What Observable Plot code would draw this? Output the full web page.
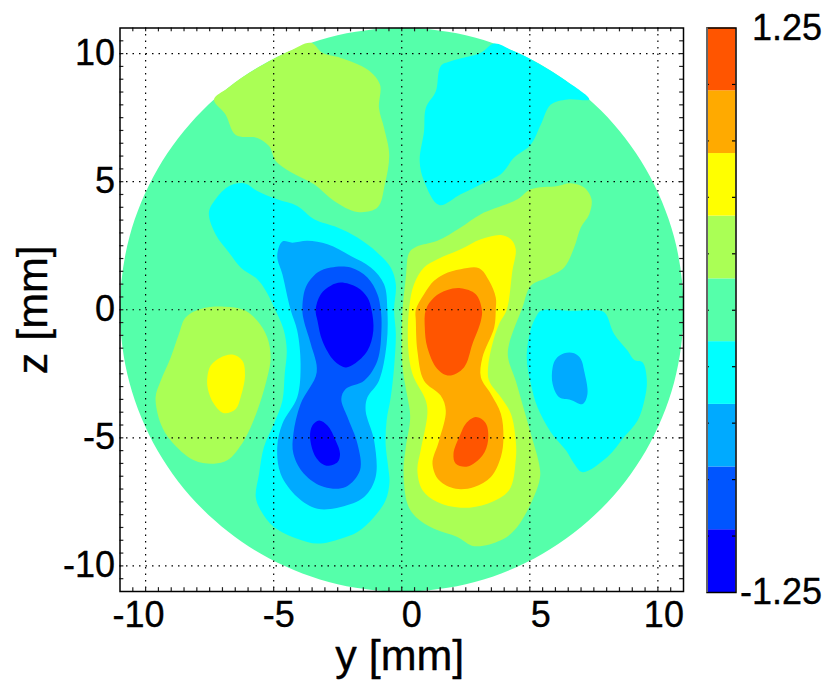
<!DOCTYPE html>
<html>
<head>
<meta charset="utf-8">
<script src="https://cdn.jsdelivr.net/npm/d3@7"></script>
<script src="https://cdn.jsdelivr.net/npm/@observablehq/plot@0.6"></script>
<style>
  html, body { margin: 0; background: white; }
  #chart { position: relative; width: 830px; height: 683px; overflow: hidden; }
  #chart svg { position: absolute; top: 0; background: transparent; }
  #bar { left: 706px; }
</style>
</head>
<body>
<div id="chart"></div>
<script>
// colours of the nine contour bands, lowest first
const bandColors = ["#0000ff", "#0055ff", "#00aaff", "#00ffff", "#55ffaa", "#aaff55", "#ffff00", "#ffaa00", "#ff5500"];
const bandEdges = [-1.25, -0.972, -0.694, -0.417, -0.139, 0.139, 0.417, 0.694, 0.972, 1.25];

const majorTicks = [-10, -5, 0, 5, 10];
// the x labels do not sit centred on their ticks in the original
const xLabelShift = [-7, 5, 10, 11, 6];
const minorTicks = [-10.5, -10, -9.5, -9, -8.5, -8, -7.5, -7, -6.5, -6, -5.5, -5, -4.5, -4, -3.5, -3, -2.5, -2, -1.5, -1, -0.5, 0,
  0.5, 1, 1.5, 2, 2.5, 3, 3.5, 4, 4.5, 5, 5.5, 6, 6.5, 7, 7.5, 8, 8.5, 9, 9.5, 10, 10.5];
const barLabels = [-1.25, 1.25];
const barTicks = [-1, -0.75, -0.5, -0.25, 0, 0.25, 0.5, 0.75, 1];

// contours, [y, z] in mm
const disc = [[11, 0], [10.63, 2.85], [9.53, 5.5], [7.78, 7.78], [5.5, 9.53], [2.85, 10.63], [0, 11], [-2.85, 10.63], [-5.5, 9.53], [-7.78, 7.78], [-9.53, 5.5], [-10.63, 2.85],
  [-11, 0], [-10.63, -2.85], [-9.53, -5.5], [-7.78, -7.78], [-5.5, -9.53], [-2.85, -10.63], [0, -11], [2.85, -10.63], [5.5, -9.53], [7.78, -7.78], [9.53, -5.5], [10.63, -2.85]];

const greenTopLeft = [[-7.33, 8.21], [-6.88, 7.62], [-6.48, 6.82], [-5.64, 6.71], [-5.18, 6.39], [-4.92, 5.81], [-4.34, 5.38], [-3.42, 4.9], [-2.64, 4.25], [-1.73, 3.82], [-0.95, 3.99], [-0.66, 4.9],
  [-0.49, 6.06], [-0.69, 7.1], [-0.89, 7.88], [-0.85, 8.79], [-1.34, 9.38], [-2.38, 9.83], [-3.1, 10.03], [-3.55, 10.42], [-4.34, 10.12], [-5.05, 9.77], [-6.16, 9.12], [-6.8, 8.65]];
const cyanTopRight = [[3.61, 10.39], [3.09, 10.03], [1.91, 9.7], [1.52, 9.51], [1.33, 8.53], [0.94, 7.88], [0.87, 6.97], [0.7, 5.81], [0.87, 5.03], [1.46, 4.09], [2.3, 4.51], [3.22, 4.96], [3.87, 5.29], [4.39, 5.94],
  [5.04, 6.45], [5.43, 7.23], [5.82, 8.01], [6.47, 8.21], [7.32, 8.21], [6.4, 8.95], [5.04, 9.78], [4.3, 10.13]];
const cyanLeft = [[-7.53, 3.79], [-7.27, 4.31], [-6.74, 4.83], [-6.16, 4.94], [-5.64, 4.64], [-4.86, 4.31], [-4.08, 4.05], [-3.42, 3.53], [-2.51, 3.21], [-1.73, 2.82], [-0.95, 2.23], [-0.43, 1.65], [-0.23, 1], [-0.3, 0],
  [-0.23, -0.95], [-0.3, -2.25], [-0.43, -3.42], [-0.59, -4.32], [-0.63, -5.23], [-0.53, -6.14], [-0.48, -6.73], [-0.63, -7.44], [-1.08, -8.09], [-1.73, -8.68], [-2.38, -8.94], [-3.29, -9.13], [-4.08, -8.94], [-4.99, -8.48],
  [-5.51, -7.83], [-5.7, -7.31], [-5.57, -6.4], [-5.38, -5.36], [-4.99, -4.45], [-4.66, -3.55], [-4.57, -2.51], [-4.49, -1.6], [-4.6, -0.82], [-4.86, -0.17], [-5.31, 0.74], [-5.64, 1.19], [-6.29, 1.65], [-6.74, 2.23], [-7.27, 2.95]];
const skyLeft = [[-4.34, 0], [-4.08, -0.82], [-3.95, -2.12], [-4.08, -3.42], [-4.66, -4.45], [-4.86, -5.36], [-4.73, -6.4], [-4.08, -7.31], [-3.29, -7.77], [-2.38, -7.7], [-1.47, -7.31], [-1.02, -6.53], [-1.08, -5.1],
  [-1.41, -3.94], [-1.34, -3.42], [-0.89, -2.77], [-0.59, -1.34], [-0.56, -0.04], [-0.69, 1], [-1.21, 1.65], [-1.99, 2.1], [-2.9, 2.56], [-3.68, 2.69], [-4.27, 2.62], [-4.66, 2.66], [-4.86, 2.1], [-4.66, 1.39]];
const royalLeft = [[-3.88, 0], [-3.75, 0.87], [-3.29, 1.45], [-2.77, 1.65], [-1.99, 1.65], [-1.34, 1.26], [-0.95, 0.61], [-0.82, 0], [-0.79, -0.69], [-0.95, -1.99], [-1.47, -2.77], [-2.19, -3.09], [-2.36, -3.48], [-2.12, -4.19],
  [-1.73, -5.23], [-1.63, -6.27], [-2.19, -6.92], [-3.03, -6.92], [-3.82, -6.4], [-4.23, -5.62], [-4.23, -4.84], [-3.95, -3.68], [-3.32, -2.44], [-3.55, -1.34], [-3.82, -0.43]];
const blueUpper = [[-3.36, 0], [-3.16, 0.61], [-2.77, 0.94], [-2.38, 1.06], [-1.73, 0.87], [-1.34, 0.48], [-1.18, 0], [-1.11, -0.82], [-1.34, -1.6], [-1.86, -2.12], [-2.19, -2.25], [-2.64, -1.99], [-3.1, -1.21], [-3.29, -0.43]];
const blueLower = [[-3.58, -4.97], [-3.49, -4.52], [-3.23, -4.32], [-2.9, -4.52], [-2.58, -5.1], [-2.41, -5.62], [-2.51, -5.95], [-2.97, -6.08], [-3.36, -5.75]];
const greenRight = [[0.29, 2.23], [0.55, 2.45], [1.39, 2.69], [2.3, 3.21], [3.09, 3.73], [4.52, 4.31], [5.04, 4.7], [6.08, 4.83], [6.6, 4.94], [7.12, 4.77], [7.41, 4.31], [7.32, 3.73], [6.99, 3.21], [6.73, 2.43], [6.34, 1.65],
  [5.69, 1.26], [5.04, 0.94], [4.71, 0.09], [4.19, -1.34], [4.15, -1.86], [4.45, -2.77], [4.71, -3.68], [5.04, -4.84], [5.36, -6.01], [5.4, -6.53], [5.1, -7.44], [4.45, -8.55], [3.87, -9], [2.83, -9.23], [2.17, -8.87], [1.26, -8.55],
  [0.55, -8.09], [0.22, -7.57], [0.07, -6.27], [0.16, -5.36], [0.33, -4.19], [0.2, -3.29], [0.03, -2.25], [0, -0.95], [0.03, 0], [0.16, 1.26]];
const yellowRight = [[0.29, 0.09], [0.48, 1], [0.87, 1.65], [1.39, 1.97], [2.3, 2.36], [3.09, 2.75], [3.87, 2.92], [4.26, 2.75], [4.45, 2.36], [4.32, 1.52], [4.1, 0], [3.8, -0.56], [3.54, -1.34], [3.37, -2.25], [3.41, -2.77], [3.87, -3.42],
  [4.26, -4.06], [4.45, -5.1], [4.45, -5.88], [4.19, -7.05], [3.35, -7.57], [2.3, -7.73], [1.39, -7.51], [0.81, -7.05], [0.61, -6.27], [0.74, -5.49], [1, -4.06], [0.94, -3.55], [0.42, -2.51], [0.25, -1.47]];
const orangeRight = [[0.55, 0], [0.87, 0.61], [1.26, 1.13], [1.65, 1.39], [2.3, 1.58], [3.02, 1.62], [3.41, 1.13], [3.67, 0.48], [3.67, 0], [3.61, -0.69], [3.15, -1.86], [3.09, -2.64], [3.48, -3.29], [3.87, -4.06], [3.97, -4.97], [3.87, -5.75],
  [3.48, -6.53], [2.83, -6.92], [2.11, -6.99], [1.46, -6.66], [1.2, -6.01], [1.46, -5.1], [1.72, -3.94], [1.52, -3.35], [0.87, -2.77], [0.61, -1.6], [0.55, -0.43]];
const redUpper = [[0.94, 0], [1.26, 0.48], [1.78, 0.77], [2.3, 0.84], [2.89, 0.61], [3.13, 0], [3.09, -0.43], [2.76, -1.34], [2.43, -2.25], [1.85, -2.57], [1.39, -2.31], [1, -1.47], [0.9, -0.69]];
const redLower = [[2.89, -4.19], [3.28, -4.43], [3.37, -5.1], [3.15, -5.69], [2.57, -6.12], [2.11, -6.01], [2.02, -5.62], [2.3, -4.84], [2.5, -4.45]];
const cyanRight = [[5.43, -0.04], [6.6, -0.04], [7.77, -0.04], [7.97, -0.17], [8.29, -0.95], [8.82, -1.6], [9.08, -1.96], [9.4, -2.05], [9.57, -2.77], [9.47, -3.55], [9.21, -4.32], [8.68, -4.97], [8.03, -5.75], [7.06, -6.34], [6.73, -6.01],
  [6.41, -5.49], [5.82, -4.78], [5.3, -3.81], [5.04, -2.9], [4.88, -1.86], [5.04, -0.75], [5.23, -0.3]];
const skyRight = [[6.34, -1.7], [6.73, -1.7], [6.99, -1.92], [7.12, -2.38], [7.25, -3.29], [7.06, -3.68], [6.6, -3.52], [6.15, -3.42], [5.89, -2.9], [5.89, -2.25], [6.02, -1.92]];
const greenLeft = [[-8.44, -0.3], [-7.85, 0.03], [-6.94, 0.12], [-6.16, -0.01], [-5.64, -0.43], [-5.25, -1.08], [-5.12, -1.86], [-5.25, -2.64], [-5.64, -3.94], [-6.16, -5.1], [-6.81, -5.88], [-7.33, -6.01], [-8.11, -5.88], [-9.02, -5.1],
  [-9.41, -4.45], [-9.61, -3.42], [-9.41, -2.77], [-9.02, -1.86], [-8.7, -0.95]];
const yellowLeft = [[-7.59, -2.64], [-7.46, -2.18], [-7.07, -1.86], [-6.61, -1.75], [-6.22, -1.99], [-6.12, -2.57], [-6.29, -3.42], [-6.48, -3.87], [-6.94, -4.04], [-7.33, -3.68], [-7.57, -3.09]];

// painted in this order, inner contours over outer ones
const regions = [
  [disc, 4], [greenTopLeft, 5], [cyanTopRight, 3], [cyanLeft, 3], [skyLeft, 2], [royalLeft, 1], [blueUpper, 0], [blueLower, 0],
  [greenRight, 5], [yellowRight, 6], [orangeRight, 7], [redUpper, 8], [redLower, 8], [cyanRight, 3], [skyRight, 2], [greenLeft, 5], [yellowLeft, 6]
];

const font = "'Liberation Sans', Arial, sans-serif";
const ink = { fill: "#000", stroke: "#000", strokeWidth: 0.35 };

const chart = Plot.plot({
  width: 830,
  height: 683,
  marginLeft: 119.5,
  marginRight: 147,
  marginTop: 27.5,
  marginBottom: 92,
  style: { fontFamily: font, background: "transparent" },
  x: { domain: [-11, 11], axis: null },
  y: { domain: [-11, 11], axis: null },
  marks: [
    ...regions.map(([pts, band]) => Plot.line(pts, {
      x: d => d[0], y: d => d[1],
      fill: bandColors[band], stroke: "none",
      curve: "catmull-rom-closed"
    })),
    // dotted grid
    Plot.ruleX(majorTicks, { stroke: "#000", strokeWidth: 1.2, strokeDasharray: "1.5,5" }),
    Plot.ruleY(majorTicks, { stroke: "#000", strokeWidth: 1.2, strokeDasharray: "1.5,5" }),
    // inward ticks on all four sides
    Plot.ruleX(minorTicks, { y1: -11, y2: -10.85, stroke: "#222", strokeWidth: 1.2 }),
    Plot.ruleX(minorTicks, { y1: 11, y2: 10.85, stroke: "#222", strokeWidth: 1.2 }),
    Plot.ruleY(minorTicks, { x1: -11, x2: -10.85, stroke: "#222", strokeWidth: 1.2 }),
    Plot.ruleY(minorTicks, { x1: 11, x2: 10.85, stroke: "#222", strokeWidth: 1.2 }),
    ...majorTicks.map((t, i) => Plot.text([String(t)], { x: () => t, y: () => -11, dx: xLabelShift[i], dy: 24, fontSize: 36, ...ink })),
    Plot.text(majorTicks, { x: () => -11, y: d => d, text: d => String(d), dx: -5, textAnchor: "end", fontSize: 36, ...ink }),
    Plot.text(["y [mm]"], { frameAnchor: "bottom", dx: -2, dy: 78, fontSize: 43, lineAnchor: "bottom", ...ink }),
    Plot.text(["z [mm]"], { frameAnchor: "left", textAnchor: "middle", dx: -87, fontSize: 43, rotate: -90, ...ink }),
    Plot.frame({ stroke: "#000", strokeWidth: 1.5 })
  ]
});

const bar = Plot.plot({
  width: 124,
  height: 683,
  marginLeft: 0.5,
  marginRight: 94.5,
  marginTop: 27.5,
  marginBottom: 91,
  style: { fontFamily: font, background: "transparent" },
  x: { domain: [0, 1], axis: null },
  y: { domain: [-1.25, 1.25], axis: null },
  marks: [
    Plot.rect(bandColors, {
      x1: () => 0, x2: () => 1,
      y1: bandEdges.slice(0, 9), y2: bandEdges.slice(1),
      fill: d => d
    }),
    Plot.ruleY(barTicks, { x1: 0, x2: 0.08, stroke: "#000", strokeWidth: 1.2 }),
    Plot.ruleY(barTicks, { x1: 1, x2: 0.88, stroke: "#000", strokeWidth: 1.2 }),
    Plot.text(barLabels, { x: () => 1, y: d => d, text: d => String(d), dx: 86, textAnchor: "end", fontSize: 36, ...ink }),
    Plot.frame({ stroke: "#000", strokeWidth: 1.5 }),
    Plot.ruleX([0], { stroke: "#666", strokeWidth: 2 })
  ],
  color: { type: "identity" }
});
bar.id = "bar";

const holder = document.getElementById("chart");
holder.append(chart, bar);
</script>
</body>
</html>
